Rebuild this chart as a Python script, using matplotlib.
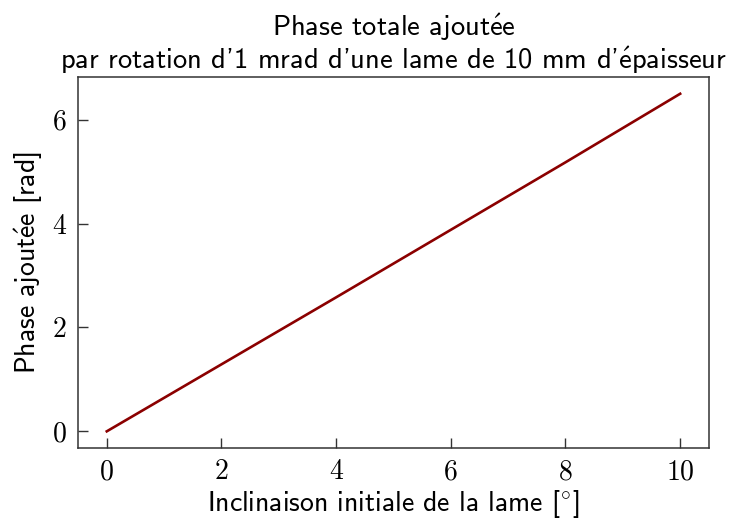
import matplotlib
matplotlib.use("Agg")
import matplotlib.pyplot as plt
from matplotlib.ticker import FuncFormatter

# data
inclinaison = [0, 2, 4, 6, 8, 10]           # degrees
phase = [0.0, 1.29, 2.58, 3.88, 5.18, 6.5]  # rad

xticks = [0, 2, 4, 6, 8, 10]
yticks = [0, 2, 4, 6]

plt.rcParams['mathtext.fontset'] = 'cm'
plt.rcParams['font.family'] = ['cmss10', 'DejaVu Sans']
plt.rcParams['axes.unicode_minus'] = False

E_ACUTE = r"$\acute{\mathsf{e}}$"  # cmss10 has no é, build it with mathtext

fig, ax = plt.subplots(figsize=(7.3, 5.23), dpi=100)
fig.subplots_adjust(left=0.107, right=0.971, top=0.853, bottom=0.143)

ax.plot(inclinaison, phase, color='#8b0000', lw=1.9)

ax.set_xticks(xticks)
ax.set_yticks(yticks)
fmt = FuncFormatter(lambda v, p: r"$%d$" % v)
ax.xaxis.set_major_formatter(fmt)
ax.yaxis.set_major_formatter(fmt)
ax.tick_params(direction='in', length=7, width=1.0, labelsize=20, colors='#333333',
               labelcolor='black', pad=8)
for s in ax.spines.values():
    s.set_color('#333333')
    s.set_linewidth(1.1)

ax.set_xlabel(r"Inclinaison initiale de la lame [$^{\circ}$]", fontsize=20, labelpad=3)
ax.set_ylabel("Phase ajout" + E_ACUTE + "e [rad]", fontsize=20, labelpad=5)
ax.set_title("Phase totale ajout" + E_ACUTE + "e\n"
             "par rotation d'1 mrad d'une lame de 10 mm d'" + E_ACUTE + "paisseur",
             fontsize=20.5, linespacing=1.05, pad=6)

fig.savefig("out.png", dpi=100)
